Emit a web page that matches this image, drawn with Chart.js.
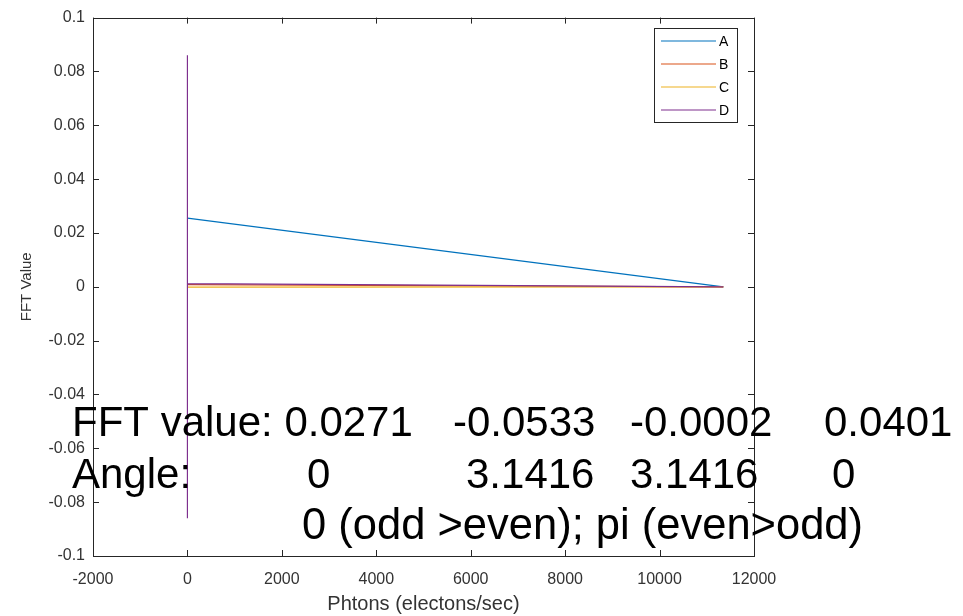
<!DOCTYPE html>
<html>
<head>
<meta charset="utf-8">
<script src="https://cdn.jsdelivr.net/npm/chart.js@4.4.1/dist/chart.umd.min.js"></script>
<style>
  html, body { margin: 0; padding: 0; background: #fff; }
  #wrap { position: relative; width: 963px; height: 616px; }
</style>
</head>
<body>
<div id="wrap"><canvas id="fft" width="963" height="616"></canvas></div>
<script>
// series
const seriesNames = ['A', 'B', 'C', 'D'];
const seriesColors = ['#0072BD', '#D95319', '#EDB120', '#7E2F8E'];
const aX = [0, 11350];
const aY = [0.0255, 0];
const bX = [0, 11350];
const bY = [0.0008, 0];
const cX = [0, 11350];
const cY = [-0.0001, 0];
const dX = [0, 0, 0, 11350];
const dY = [0.086, -0.086, 0.0012, 0];

// axis ranges / ticks
const xMin = -2000, xMax = 12000, xStep = 2000;
const yMin = -0.1, yMax = 0.1, yStep = 0.02;

// annotation text rows
const textRows = [
  ['FFT value: 0.0271', '-0.0533', '-0.0002', '0.0401'],
  ['Angle:', '0', '3.1416', '3.1416', '0'],
  ['0 (odd >even); pi (even>odd)']
];

const toPoints = (xs, ys) => xs.map((x, i) => ({ x: x, y: ys[i] }));
const allX = [aX, bX, cX, dX];
const allY = [aY, bY, cY, dY];

const axisColor = '#262626';
const fontFam = 'Liberation Sans, Arial, sans-serif';
const tickFont = { family: fontFam, size: 16 };

// box, inward ticks, legend and the big text (MATLAB look)
const matlabDecor = {
  id: 'matlabDecor',
  afterDraw(chart) {
    const ctx = chart.ctx;
    const a = chart.chartArea;
    const xs = chart.scales.x, ys = chart.scales.y;
    const tl = 6;
    ctx.save();
    ctx.strokeStyle = axisColor;
    ctx.lineWidth = 1;
    ctx.strokeRect(Math.round(a.left) + 0.5, Math.round(a.top) + 0.5,
      Math.round(a.right - a.left), Math.round(a.bottom - a.top));
    ctx.beginPath();
    xs.ticks.forEach(t => {
      const px = Math.round(xs.getPixelForValue(t.value)) + 0.5;
      ctx.moveTo(px, a.bottom); ctx.lineTo(px, a.bottom - tl);
      ctx.moveTo(px, a.top); ctx.lineTo(px, a.top + tl);
    });
    ys.ticks.forEach(t => {
      const py = Math.round(ys.getPixelForValue(t.value)) + 0.5;
      ctx.moveTo(a.left, py); ctx.lineTo(a.left + tl, py);
      ctx.moveTo(a.right, py); ctx.lineTo(a.right - tl, py);
    });
    ctx.stroke();

    // legend
    const lx = 654, ly = 28, lw = 83, lh = 94;
    ctx.fillStyle = '#fff';
    ctx.fillRect(lx, ly, lw, lh);
    ctx.strokeStyle = axisColor;
    ctx.strokeRect(lx + 0.5, ly + 0.5, lw, lh);
    ctx.font = '14px ' + fontFam;
    ctx.textBaseline = 'middle';
    chart.data.datasets.forEach((ds, i) => {
      const ry = 41 + i * 23;
      ctx.strokeStyle = ds.borderColor;
      ctx.lineWidth = 1.2;
      ctx.beginPath();
      ctx.moveTo(661, ry); ctx.lineTo(716, ry);
      ctx.stroke();
      ctx.fillStyle = '#000';
      ctx.fillText(ds.label, 719, ry + 1);
    });

    // big annotation text
    ctx.textBaseline = 'alphabetic';
    ctx.fillStyle = '#000';
    const rowX = [[72, 453, 630, 824], [72, 307, 466, 630, 832], [302]];
    const rowY = [436, 488, 539];
    const rowSize = [42, 42, 43.5];
    textRows.forEach((row, r) => {
      ctx.font = rowSize[r] + 'px ' + fontFam;
      row.forEach((s, k) => ctx.fillText(s, rowX[r][k], rowY[r]));
    });
    ctx.restore();
  }
};

new Chart(document.getElementById('fft'), {
  type: 'scatter',
  data: {
    datasets: seriesNames.map((name, i) => ({
      label: name,
      data: toPoints(allX[i], allY[i]),
      showLine: true,
      borderColor: seriesColors[i],
      backgroundColor: seriesColors[i],
      borderWidth: 1.2,
      pointRadius: 0,
      tension: 0,
      order: seriesNames.length - i
    }))
  },
  options: {
    responsive: false,
    animation: false,
    layout: { padding: { left: 0, right: 209, top: 14, bottom: 0 } },
    plugins: { legend: { display: false }, tooltip: { enabled: false } },
    scales: {
      x: {
        type: 'linear',
        min: xMin, max: xMax,
        afterFit: s => { s.height = 60; },
        ticks: {
          stepSize: xStep, color: '#333', font: tickFont, padding: 14, maxRotation: 0,
          callback: v => String(v)
        },
        grid: { drawOnChartArea: false, drawTicks: false },
        border: { display: false },
        title: {
          display: true, text: 'Phtons (electons/sec)', color: '#333',
          font: { family: fontFam, size: 20 }, padding: { top: 0, bottom: 0 }
        }
      },
      y: {
        type: 'linear',
        min: yMin, max: yMax,
        afterFit: s => { s.width = 93; },
        ticks: {
          stepSize: yStep, color: '#333', font: tickFont, padding: 8,
          callback: v => String(parseFloat(v.toFixed(2)))
        },
        grid: { drawOnChartArea: false, drawTicks: false },
        border: { display: false },
        title: {
          display: true, text: 'FFT Value', color: '#333',
          font: { family: fontFam, size: 15 },
          padding: { top: 18, bottom: 0 }
        }
      }
    }
  },
  plugins: [matlabDecor]
});
</script>
</body>
</html>
